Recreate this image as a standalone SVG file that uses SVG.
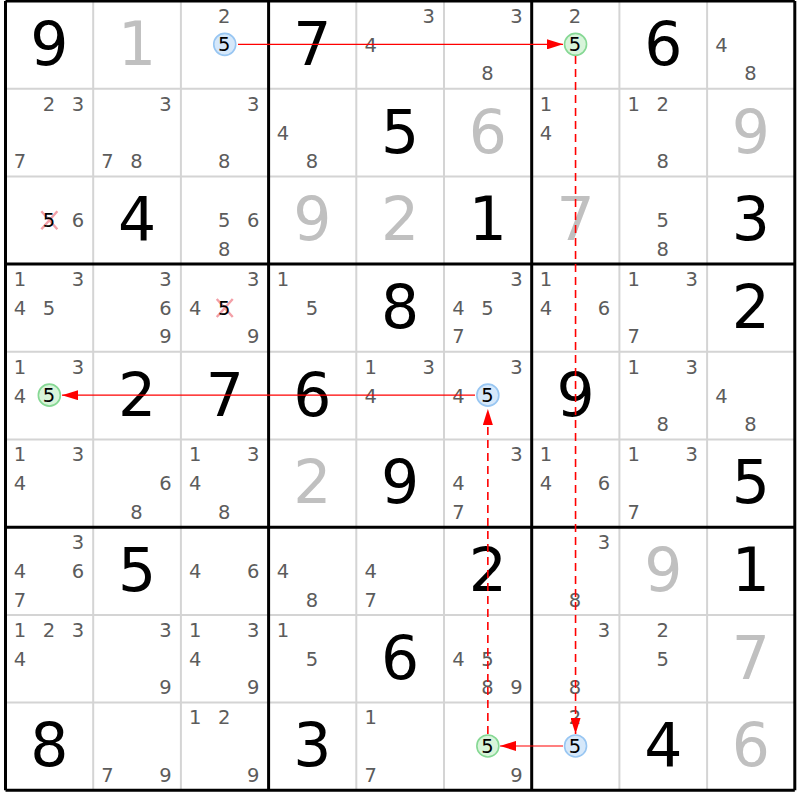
<svg xmlns="http://www.w3.org/2000/svg" width="800" height="800" viewBox="0 0 800 800">
<defs>
<style>
text{font-family:"DejaVu Sans","Liberation Sans",sans-serif;text-anchor:middle}
.g{font-size:60px;fill:#000}
.s{font-size:60px;fill:#c0c0c0}
.c{font-size:19.5px;fill:#5c5c5c}
.k{font-size:19.5px;fill:#000}
.thin{stroke:#d4d4d4;stroke-width:2;fill:none}
.thick{stroke:#000;stroke-width:3;fill:none}
.cb{fill:#d6e8fa;stroke:#98c6f2;stroke-width:1.6}
.cg{fill:#d8f4da;stroke:#86d894;stroke-width:1.6}
.x{stroke:#f3a0a8;stroke-width:2.4}
.solid{stroke:#ff0000;stroke-width:1.1;fill:none;marker-end:url(#ah)}
.dash{stroke:#ff0000;stroke-width:1.6;fill:none;stroke-dasharray:8,5;marker-end:url(#ah)}
</style>
<marker id="ah" markerUnits="userSpaceOnUse" markerWidth="17" markerHeight="10" refX="16" refY="5" orient="auto">
<path d="M0,0 L16,5 L0,10 z" fill="#ff0000"/>
</marker>
</defs>
<rect width="800" height="800" fill="#fff"/>
<g id="grid">
<path class="thin" d="M93.2,1V790.3M180.9,1V790.3M356.3,1V790.3M444,1V790.3M619.4,1V790.3M707.1,1V790.3M5.5,88.7H794.8M5.5,176.4H794.8M5.5,351.8H794.8M5.5,439.5H794.8M5.5,614.9H794.8M5.5,702.6H794.8"/>
<path class="thick" d="M5.5,1V790.3M268.6,1V790.3M531.7,1V790.3M794.8,1V790.3M5.5,1H794.8M5.5,264.1H794.8M5.5,527.2H794.8M5.5,790.3H794.8"/>
</g>
<g id="cells">
<g id="r0c0" transform="translate(49.35,44.85)"><text class="g" x="0" y="20">9</text></g>
<g id="r0c1" transform="translate(137.05,44.85)"><text class="s" x="0" y="20">1</text></g>
<g id="r0c2" transform="translate(224.75,44.85)"><text class="c" x="-0.5" y="-22">2</text><circle class="cb" cx="0" cy="-0.5" r="11"/><text class="k" x="-0.5" y="6.5">5</text></g>
<g id="r0c3" transform="translate(312.45,44.85)"><text class="g" x="0" y="20">7</text></g>
<g id="r0c4" transform="translate(400.15,44.85)"><text class="c" x="28.5" y="-22">3</text><text class="c" x="-29.5" y="7">4</text></g>
<g id="r0c5" transform="translate(487.85,44.85)"><text class="c" x="28.5" y="-22">3</text><text class="c" x="-0.5" y="35.5">8</text></g>
<g id="r0c6" transform="translate(575.55,44.85)"><text class="c" x="-0.5" y="-22">2</text><circle class="cg" cx="0" cy="-0.5" r="11"/><text class="k" x="-0.5" y="6.5">5</text></g>
<g id="r0c7" transform="translate(663.25,44.85)"><text class="g" x="0" y="20">6</text></g>
<g id="r0c8" transform="translate(750.95,44.85)"><text class="c" x="-29.5" y="7">4</text><text class="c" x="-0.5" y="35.5">8</text></g>

<g id="r1c0" transform="translate(49.35,132.55)"><text class="c" x="-0.5" y="-22">2</text><text class="c" x="28.5" y="-22">3</text><text class="c" x="-29.5" y="35.5">7</text></g>
<g id="r1c1" transform="translate(137.05,132.55)"><text class="c" x="28.5" y="-22">3</text><text class="c" x="-29.5" y="35.5">7</text><text class="c" x="-0.5" y="35.5">8</text></g>
<g id="r1c2" transform="translate(224.75,132.55)"><text class="c" x="28.5" y="-22">3</text><text class="c" x="-0.5" y="35.5">8</text></g>
<g id="r1c3" transform="translate(312.45,132.55)"><text class="c" x="-29.5" y="7">4</text><text class="c" x="-0.5" y="35.5">8</text></g>
<g id="r1c4" transform="translate(400.15,132.55)"><text class="g" x="0" y="20">5</text></g>
<g id="r1c5" transform="translate(487.85,132.55)"><text class="s" x="0" y="20">6</text></g>
<g id="r1c6" transform="translate(575.55,132.55)"><text class="c" x="-29.5" y="-22">1</text><text class="c" x="-29.5" y="7">4</text></g>
<g id="r1c7" transform="translate(663.25,132.55)"><text class="c" x="-29.5" y="-22">1</text><text class="c" x="-0.5" y="-22">2</text><text class="c" x="-0.5" y="35.5">8</text></g>
<g id="r1c8" transform="translate(750.95,132.55)"><text class="s" x="0" y="20">9</text></g>

<g id="r2c0" transform="translate(49.35,220.25)"><path class="x" d="M-8,-9L8,9M8,-9L-8,9"/><text class="k" x="-0.5" y="7">5</text><text class="c" x="28.5" y="7">6</text></g>
<g id="r2c1" transform="translate(137.05,220.25)"><text class="g" x="0" y="20">4</text></g>
<g id="r2c2" transform="translate(224.75,220.25)"><text class="c" x="-0.5" y="7">5</text><text class="c" x="28.5" y="7">6</text><text class="c" x="-0.5" y="35.5">8</text></g>
<g id="r2c3" transform="translate(312.45,220.25)"><text class="s" x="0" y="20">9</text></g>
<g id="r2c4" transform="translate(400.15,220.25)"><text class="s" x="0" y="20">2</text></g>
<g id="r2c5" transform="translate(487.85,220.25)"><text class="g" x="0" y="20">1</text></g>
<g id="r2c6" transform="translate(575.55,220.25)"><text class="s" x="0" y="20">7</text></g>
<g id="r2c7" transform="translate(663.25,220.25)"><text class="c" x="-0.5" y="7">5</text><text class="c" x="-0.5" y="35.5">8</text></g>
<g id="r2c8" transform="translate(750.95,220.25)"><text class="g" x="0" y="20">3</text></g>

<g id="r3c0" transform="translate(49.35,307.95)"><text class="c" x="-29.5" y="-22">1</text><text class="c" x="28.5" y="-22">3</text><text class="c" x="-29.5" y="7">4</text><text class="c" x="-0.5" y="7">5</text></g>
<g id="r3c1" transform="translate(137.05,307.95)"><text class="c" x="28.5" y="-22">3</text><text class="c" x="28.5" y="7">6</text><text class="c" x="28.5" y="35.5">9</text></g>
<g id="r3c2" transform="translate(224.75,307.95)"><text class="c" x="28.5" y="-22">3</text><text class="c" x="-29.5" y="7">4</text><path class="x" d="M-8,-9L8,9M8,-9L-8,9"/><text class="k" x="-0.5" y="7">5</text><text class="c" x="28.5" y="35.5">9</text></g>
<g id="r3c3" transform="translate(312.45,307.95)"><text class="c" x="-29.5" y="-22">1</text><text class="c" x="-0.5" y="7">5</text></g>
<g id="r3c4" transform="translate(400.15,307.95)"><text class="g" x="0" y="20">8</text></g>
<g id="r3c5" transform="translate(487.85,307.95)"><text class="c" x="28.5" y="-22">3</text><text class="c" x="-29.5" y="7">4</text><text class="c" x="-0.5" y="7">5</text><text class="c" x="-29.5" y="35.5">7</text></g>
<g id="r3c6" transform="translate(575.55,307.95)"><text class="c" x="-29.5" y="-22">1</text><text class="c" x="-29.5" y="7">4</text><text class="c" x="28.5" y="7">6</text></g>
<g id="r3c7" transform="translate(663.25,307.95)"><text class="c" x="-29.5" y="-22">1</text><text class="c" x="28.5" y="-22">3</text><text class="c" x="-29.5" y="35.5">7</text></g>
<g id="r3c8" transform="translate(750.95,307.95)"><text class="g" x="0" y="20">2</text></g>

<g id="r4c0" transform="translate(49.35,395.65)"><text class="c" x="-29.5" y="-22">1</text><text class="c" x="28.5" y="-22">3</text><text class="c" x="-29.5" y="7">4</text><circle class="cg" cx="0" cy="-0.5" r="11"/><text class="k" x="-0.5" y="6.5">5</text></g>
<g id="r4c1" transform="translate(137.05,395.65)"><text class="g" x="0" y="20">2</text></g>
<g id="r4c2" transform="translate(224.75,395.65)"><text class="g" x="0" y="20">7</text></g>
<g id="r4c3" transform="translate(312.45,395.65)"><text class="g" x="0" y="20">6</text></g>
<g id="r4c4" transform="translate(400.15,395.65)"><text class="c" x="-29.5" y="-22">1</text><text class="c" x="28.5" y="-22">3</text><text class="c" x="-29.5" y="7">4</text></g>
<g id="r4c5" transform="translate(487.85,395.65)"><text class="c" x="28.5" y="-22">3</text><text class="c" x="-29.5" y="7">4</text><circle class="cb" cx="0" cy="-0.5" r="11"/><text class="k" x="-0.5" y="6.5">5</text></g>
<g id="r4c6" transform="translate(575.55,395.65)"><text class="g" x="0" y="20">9</text></g>
<g id="r4c7" transform="translate(663.25,395.65)"><text class="c" x="-29.5" y="-22">1</text><text class="c" x="28.5" y="-22">3</text><text class="c" x="-0.5" y="35.5">8</text></g>
<g id="r4c8" transform="translate(750.95,395.65)"><text class="c" x="-29.5" y="7">4</text><text class="c" x="-0.5" y="35.5">8</text></g>

<g id="r5c0" transform="translate(49.35,483.35)"><text class="c" x="-29.5" y="-22">1</text><text class="c" x="28.5" y="-22">3</text><text class="c" x="-29.5" y="7">4</text></g>
<g id="r5c1" transform="translate(137.05,483.35)"><text class="c" x="28.5" y="7">6</text><text class="c" x="-0.5" y="35.5">8</text></g>
<g id="r5c2" transform="translate(224.75,483.35)"><text class="c" x="-29.5" y="-22">1</text><text class="c" x="28.5" y="-22">3</text><text class="c" x="-29.5" y="7">4</text><text class="c" x="-0.5" y="35.5">8</text></g>
<g id="r5c3" transform="translate(312.45,483.35)"><text class="s" x="0" y="20">2</text></g>
<g id="r5c4" transform="translate(400.15,483.35)"><text class="g" x="0" y="20">9</text></g>
<g id="r5c5" transform="translate(487.85,483.35)"><text class="c" x="28.5" y="-22">3</text><text class="c" x="-29.5" y="7">4</text><text class="c" x="-29.5" y="35.5">7</text></g>
<g id="r5c6" transform="translate(575.55,483.35)"><text class="c" x="-29.5" y="-22">1</text><text class="c" x="-29.5" y="7">4</text><text class="c" x="28.5" y="7">6</text></g>
<g id="r5c7" transform="translate(663.25,483.35)"><text class="c" x="-29.5" y="-22">1</text><text class="c" x="28.5" y="-22">3</text><text class="c" x="-29.5" y="35.5">7</text></g>
<g id="r5c8" transform="translate(750.95,483.35)"><text class="g" x="0" y="20">5</text></g>

<g id="r6c0" transform="translate(49.35,571.05)"><text class="c" x="28.5" y="-22">3</text><text class="c" x="-29.5" y="7">4</text><text class="c" x="28.5" y="7">6</text><text class="c" x="-29.5" y="35.5">7</text></g>
<g id="r6c1" transform="translate(137.05,571.05)"><text class="g" x="0" y="20">5</text></g>
<g id="r6c2" transform="translate(224.75,571.05)"><text class="c" x="-29.5" y="7">4</text><text class="c" x="28.5" y="7">6</text></g>
<g id="r6c3" transform="translate(312.45,571.05)"><text class="c" x="-29.5" y="7">4</text><text class="c" x="-0.5" y="35.5">8</text></g>
<g id="r6c4" transform="translate(400.15,571.05)"><text class="c" x="-29.5" y="7">4</text><text class="c" x="-29.5" y="35.5">7</text></g>
<g id="r6c5" transform="translate(487.85,571.05)"><text class="g" x="0" y="20">2</text></g>
<g id="r6c6" transform="translate(575.55,571.05)"><text class="c" x="28.5" y="-22">3</text><text class="c" x="-0.5" y="35.5">8</text></g>
<g id="r6c7" transform="translate(663.25,571.05)"><text class="s" x="0" y="20">9</text></g>
<g id="r6c8" transform="translate(750.95,571.05)"><text class="g" x="0" y="20">1</text></g>

<g id="r7c0" transform="translate(49.35,658.75)"><text class="c" x="-29.5" y="-22">1</text><text class="c" x="-0.5" y="-22">2</text><text class="c" x="28.5" y="-22">3</text><text class="c" x="-29.5" y="7">4</text></g>
<g id="r7c1" transform="translate(137.05,658.75)"><text class="c" x="28.5" y="-22">3</text><text class="c" x="28.5" y="35.5">9</text></g>
<g id="r7c2" transform="translate(224.75,658.75)"><text class="c" x="-29.5" y="-22">1</text><text class="c" x="28.5" y="-22">3</text><text class="c" x="-29.5" y="7">4</text><text class="c" x="28.5" y="35.5">9</text></g>
<g id="r7c3" transform="translate(312.45,658.75)"><text class="c" x="-29.5" y="-22">1</text><text class="c" x="-0.5" y="7">5</text></g>
<g id="r7c4" transform="translate(400.15,658.75)"><text class="g" x="0" y="20">6</text></g>
<g id="r7c5" transform="translate(487.85,658.75)"><text class="c" x="-29.5" y="7">4</text><text class="c" x="-0.5" y="7">5</text><text class="c" x="-0.5" y="35.5">8</text><text class="c" x="28.5" y="35.5">9</text></g>
<g id="r7c6" transform="translate(575.55,658.75)"><text class="c" x="28.5" y="-22">3</text><text class="c" x="-0.5" y="35.5">8</text></g>
<g id="r7c7" transform="translate(663.25,658.75)"><text class="c" x="-0.5" y="-22">2</text><text class="c" x="-0.5" y="7">5</text></g>
<g id="r7c8" transform="translate(750.95,658.75)"><text class="s" x="0" y="20">7</text></g>

<g id="r8c0" transform="translate(49.35,746.45)"><text class="g" x="0" y="20">8</text></g>
<g id="r8c1" transform="translate(137.05,746.45)"><text class="c" x="-29.5" y="35.5">7</text><text class="c" x="28.5" y="35.5">9</text></g>
<g id="r8c2" transform="translate(224.75,746.45)"><text class="c" x="-29.5" y="-22">1</text><text class="c" x="-0.5" y="-22">2</text><text class="c" x="28.5" y="35.5">9</text></g>
<g id="r8c3" transform="translate(312.45,746.45)"><text class="g" x="0" y="20">3</text></g>
<g id="r8c4" transform="translate(400.15,746.45)"><text class="c" x="-29.5" y="-22">1</text><text class="c" x="-29.5" y="35.5">7</text></g>
<g id="r8c5" transform="translate(487.85,746.45)"><circle class="cg" cx="0" cy="-0.5" r="11"/><text class="k" x="-0.5" y="6.5">5</text><text class="c" x="28.5" y="35.5">9</text></g>
<g id="r8c6" transform="translate(575.55,746.45)"><text class="c" x="-0.5" y="-22">2</text><circle class="cb" cx="0" cy="-0.5" r="11"/><text class="k" x="-0.5" y="6.5">5</text></g>
<g id="r8c7" transform="translate(663.25,746.45)"><text class="g" x="0" y="20">4</text></g>
<g id="r8c8" transform="translate(750.95,746.45)"><text class="s" x="0" y="20">6</text></g>
</g>
<g id="connectors">
<path class="solid" d="M238,44.35H563"/>
<path class="dash" d="M575.55,56V734"/>
<path class="solid" d="M563,745.95H500"/>
<path class="dash" d="M487.85,734V409"/>
<path class="solid" d="M475,395.15H62"/>
</g>
</svg>
